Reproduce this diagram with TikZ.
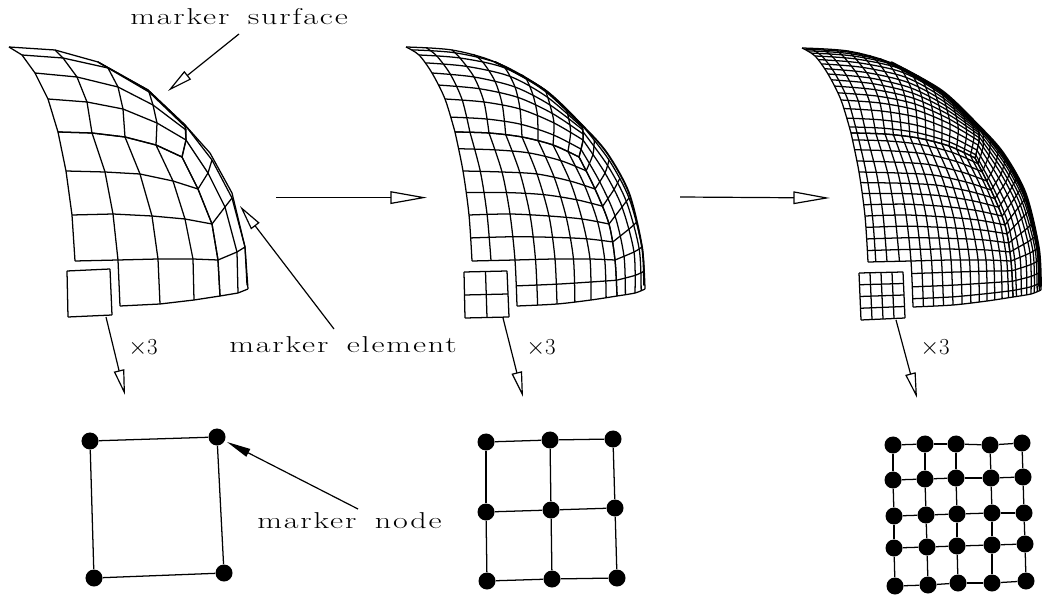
\documentclass[tikz,border=0pt]{standalone}
\usepackage{fontspec}
\usetikzlibrary{arrows.meta,calc}

\newfontfamily\labelfont[FakeStretch=1.4,LetterSpace=8,WordSpace=1.6]{Latin Modern Roman}

% coarse mesh, one call per column: first row, then x/y of its nodes
\newcommand{\gridcol}[3]{%
  \foreach \px/\py [count=\j from #2] in {#3}{%
    \expandafter\xdef\csname g0-#1-\j\endcsname{\px}%
    \expandafter\xdef\csname g1-#1-\j\endcsname{\py}}}

\pgfmathdeclarefunction{gridv}{3}{\begingroup
  \pgfmathint{#1}\edef\pa{\pgfmathresult}\pgfmathint{#2}\edef\pb{\pgfmathresult}\pgfmathint{#3}%
  \edef\pgfmathresult{\csname g\pa-\pb-\pgfmathresult\endcsname}%
  \pgfmathsmuggle\pgfmathresult\endgroup}
\pgfmathdeclarefunction{crom}{5}{\pgfmathparse{0.5*(2*#2+(#3-#1)*#5+(2*#1-5*#2+4*#3-#4)*#5*#5+(3*#2-#1-3*#3+#4)*#5*#5*#5)}}

\newcommand{\setspan}[3]{%
  \pgfmathtruncatemacro\spb{min(floor(#1),#3-1)}%
  \pgfmathtruncatemacro\spa{max(\spb-1,#2)}%
  \pgfmathtruncatemacro\spc{\spb+1}%
  \pgfmathtruncatemacro\spd{min(\spb+2,#3)}%
  \pgfmathsetmacro\spt{#1-\spb}}

% ilo, ihi, jlo, jhi, subdivision, plot handler
\newcommand{\meshpatch}[6]{%
  \pgfmathtruncatemacro\kfrom{#1*#5}\pgfmathtruncatemacro\kto{#2*#5}%
  \foreach \k in {\kfrom,...,\kto}{%
    \pgfmathsetmacro\pu{\k/#5}\setspan{\pu}{#1}{#2}%
    \pgfmathtruncatemacro\jtop{(#4==8 && \pu<1)?7:#4}%
    \draw[meshline] plot[#6,samples at={#3,...,\jtop},variable=\j]
      ({crom(gridv(0,\spa,\j),gridv(0,\spb,\j),gridv(0,\spc,\j),gridv(0,\spd,\j),\spt)},
       {crom(gridv(1,\spa,\j),gridv(1,\spb,\j),gridv(1,\spc,\j),gridv(1,\spd,\j),\spt)});}%
  \pgfmathtruncatemacro\kfrom{#3*#5}\pgfmathtruncatemacro\kto{#4*#5}%
  \foreach \k in {\kfrom,...,\kto}{%
    \pgfmathsetmacro\pv{\k/#5}\setspan{\pv}{#3}{#4}%
    \pgfmathtruncatemacro\ifrom{(#1==0 && \pv>7)?1:#1}%
    \draw[meshline] plot[#6,samples at={\ifrom,...,#2},variable=\i]
      ({crom(gridv(0,\i,\spa),gridv(0,\i,\spb),gridv(0,\i,\spc),gridv(0,\i,\spd),\spt)},
       {crom(gridv(1,\i,\spa),gridv(1,\i,\spb),gridv(1,\i,\spc),gridv(1,\i,\spd),\spt)});}}

% subdivision, plot handler, width of the crowded outer edge
\newcommand{\markersurface}[3]{%
  \meshpatch{0}{4}{0}{4}{#1}{#2}
  \meshpatch{0}{4}{4}{8}{#1}{#2}
  \meshpatch{4}{6}{4}{8}{#1}{#2}
  \draw[line width=#3,line join=round,line cap=round] plot[#2] coordinates
    {(98,62) (148,90) (185,125) (210,153) (232,193) (245,247) (247,285)};}

% corners a b c d clockwise from top left, subdivision
\newcommand{\elementbox}[5]{%
  \foreach \k in {0,...,#5}{%
    \pgfmathsetmacro\pt{\k/#5}%
    \draw[meshline] ($(#1)!\pt!(#2)$) -- ($(#4)!\pt!(#3)$);
    \draw[meshline] ($(#1)!\pt!(#4)$) -- ($(#2)!\pt!(#3)$);}}

% dots named <name>1.. row by row, joined to right and lower neighbour
\newcommand{\nodenet}[3]{%
  \foreach \x/\y [count=\n] in {#3}{\node[markerdot] (#1\n) at (\x,\y) {};}
  \pgfmathtruncatemacro\nlast{#2*#2}%
  \foreach \n in {1,...,\nlast}{%
    \pgfmathtruncatemacro\nright{\n+1}\pgfmathtruncatemacro\ndown{\n+#2}%
    \pgfmathtruncatemacro\hasright{mod(\n,#2)>0}%
    \ifnum\hasright=1 \draw[meshline] (#1\n) -- (#1\nright);\fi
    \ifnum\ndown>\nlast\else \draw[meshline] (#1\n) -- (#1\ndown);\fi}}

\tikzset{
  meshline/.style={line width=0.9pt,line join=round},
  markerdot/.style={circle,fill=black,inner sep=0pt,minimum size=0.425cm},
  labeltext/.style={inner sep=0pt,anchor=base west,font=\labelfont\fontsize{16.3}{18}\selectfont},
  scaletext/.style={inner sep=0pt,font=\fontsize{16.3}{18}\selectfont},
  openarrow/.style={line width=0.85pt,-{Triangle[open,length=18pt,width=7.5pt]}},
  longarrow/.style={line width=0.85pt,-{Triangle[open,length=26pt,width=9pt]}},
  solidarrow/.style={line width=0.85pt,-{Triangle[length=17pt,width=6pt]}},
}

\begin{document}
\begin{tikzpicture}[x=0.025cm,y=-0.025cm]
  \useasboundingbox (0,0) rectangle (1044,596);
  \gridcol{0}{0}{9/47,22/55,35/73,48/99,58/132,66/171,72/215,75/261,76/306}
  \gridcol{1}{0}{55/50,63/58,77/77,87/102,92/133,105/172,113/214,118/260,120/306}
  \gridcol{2}{0}{98/62,108/68,118/87,123/109,125/137,140/174,152/216,158/259,160/304}
  \gridcol{3}{0}{148/90,149/92,153/105,157/123,156/145,173/181,185/219,193/259,194/300}
  \gridcol{4}{0}{185/125,185.5/127,186/130,186/140,182/157,198/189,212/224,218/260,220/296}
  \gridcol{5}{4}{186/140,208/173,225/207,237/252,238/293}
  \gridcol{6}{4}{185/125,212/160,232/198,245/247,248/289}

  % the three surfaces
  \markersurface{1}{sharp plot}{0.9pt}
  \begin{scope}[shift={(397,0)}]
    \markersurface{2}{smooth}{1.3pt}
  \end{scope}
  \begin{scope}[shift={(793,1)}]
    \markersurface{4}{smooth}{2.6pt}
  \end{scope}

  % pulled out elements
  \coordinate (boxa1) at (67,271);  \coordinate (boxb1) at (110,269);
  \coordinate (boxc1) at (112,315); \coordinate (boxd1) at (68,317);
  \coordinate (boxa2) at (464,272); \coordinate (boxb2) at (507,271);
  \coordinate (boxc2) at (509,317); \coordinate (boxd2) at (465,318);
  \coordinate (boxa3) at (859,273); \coordinate (boxb3) at (903,272);
  \coordinate (boxc3) at (905,318); \coordinate (boxd3) at (861,320);
  \elementbox{boxa1}{boxb1}{boxc1}{boxd1}{1}
  \elementbox{boxa2}{boxb2}{boxc2}{boxd2}{2}
  \elementbox{boxa3}{boxb3}{boxc3}{boxd3}{4}

  % node nets
  \nodenet{one}{2}{90/441,217/437,94/578,224/573}
  \nodenet{two}{3}{486/442,550/440,613/439,486/512,551/510,615/508,487/581,552/579,617/578}
  \nodenet{four}{5}{893/445,925/444,956/444,990/445,1022/443,
    893/480,925/479,956/478,991/478,1023/477,
    894/516,926/515,957/514,992/513,1024/513,
    894/548,927/547,957/546,992/545,1025/544,
    895/586,928/585,958/583,992/583,1026/581}

  % labels
  \node[labeltext] (surfacelabel) at (130,25) {marker surface};
  \node[labeltext] (elementlabel) at (229,352) {marker element};
  \node[labeltext] (nodelabel) at (257,528) {marker node};
  \node[scaletext] (scaleone) at (143,348) {$\times$3};
  \node[scaletext] (scaletwo) at (541,348) {$\times$3};
  \node[scaletext] (scalefour) at (935,348) {$\times$3};

  % arrows
  \coordinate (surfacefrom) at (239,34);  \coordinate (surfaceto) at (168,91);
  \coordinate (elementfrom) at (334,329); \coordinate (elementto) at (240,206);
  \coordinate (nodefrom) at (358,509);    \coordinate (nodeto) at (227,442);
  \coordinate (stepfrom1) at (276,197.6); \coordinate (stepto1) at (427,197.6);
  \coordinate (stepfrom2) at (680,197);   \coordinate (stepto2) at (830,198);
  \coordinate (zoomfrom1) at (106,317);   \coordinate (zoomto1) at (125,395);
  \coordinate (zoomfrom2) at (503,318);   \coordinate (zoomto2) at (523,397);
  \coordinate (zoomfrom3) at (896,320);   \coordinate (zoomto3) at (917,398);
  \draw[openarrow] (surfacefrom) -- (surfaceto);
  \draw[openarrow] (elementfrom) -- (elementto);
  \draw[solidarrow] (nodefrom) -- (nodeto);
  \draw[longarrow] (stepfrom1) -- (stepto1);
  \draw[longarrow] (stepfrom2) -- (stepto2);
  \draw[openarrow] (zoomfrom1) -- (zoomto1);
  \draw[openarrow] (zoomfrom2) -- (zoomto2);
  \draw[openarrow] (zoomfrom3) -- (zoomto3);
\end{tikzpicture}
\end{document}
